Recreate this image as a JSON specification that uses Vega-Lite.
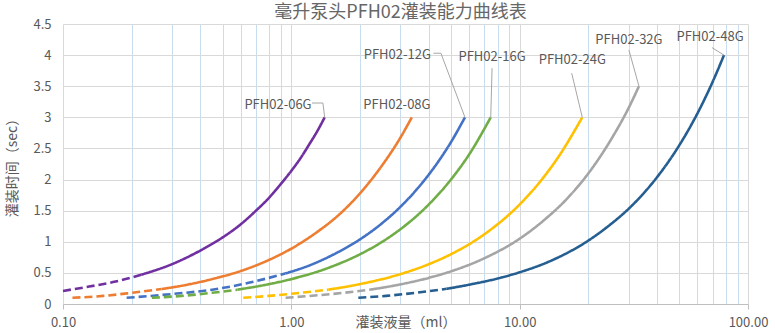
{
  "$schema": "https://vega.github.io/schema/vega-lite/v6.json",
  "width": 685,
  "height": 280,
  "autosize": {"type": "none"},
  "padding": {"left": 63, "top": 24, "right": 27, "bottom": 29},
  "background": "white",
  "title": {
    "text": "毫升泵头PFH02灌装能力曲线表",
    "font": "Noto Sans CJK SC",
    "fontSize": 18,
    "fontWeight": "normal",
    "color": "#666666",
    "anchor": "middle",
    "frame": "group",
    "baseline": "alphabetic",
    "offset": -18,
    "dx": -5
  },
  "config": {
    "view": {"stroke": null},
    "font": "Noto Sans CJK SC",
    "text": {"font": "Noto Sans CJK SC"}
  },
  "datasets": {
    "curves": [
      {"s":"06G","g":"dash","v":0.1,"t":0.21},{"s":"06G","g":"dash","v":0.13,"t":0.28},{"s":"06G","g":"dash","v":0.17,"t":0.36},{"s":"06G","g":"dash","v":0.22,"t":0.47},
      {"s":"06G","g":"solid","v":0.22,"t":0.47},{"s":"06G","g":"solid","v":0.3,"t":0.64},{"s":"06G","g":"solid","v":0.4,"t":0.86},{"s":"06G","g":"solid","v":0.5,"t":1.07},{"s":"06G","g":"solid","v":0.6,"t":1.28},{"s":"06G","g":"solid","v":0.7,"t":1.5},{"s":"06G","g":"solid","v":0.8,"t":1.71},{"s":"06G","g":"solid","v":0.9,"t":1.93},{"s":"06G","g":"solid","v":1.0,"t":2.14},{"s":"06G","g":"solid","v":1.1,"t":2.35},{"s":"06G","g":"solid","v":1.2,"t":2.57},{"s":"06G","g":"solid","v":1.3,"t":2.78},{"s":"06G","g":"solid","v":1.4,"t":3.0},
      {"s":"08G","g":"dash","v":0.11,"t":0.1},{"s":"08G","g":"dash","v":0.15,"t":0.13},{"s":"08G","g":"dash","v":0.2,"t":0.18},{"s":"08G","g":"dash","v":0.27,"t":0.24},
      {"s":"08G","g":"solid","v":0.27,"t":0.24},{"s":"08G","g":"solid","v":0.35,"t":0.31},{"s":"08G","g":"solid","v":0.45,"t":0.4},{"s":"08G","g":"solid","v":0.6,"t":0.53},{"s":"08G","g":"solid","v":0.8,"t":0.71},{"s":"08G","g":"solid","v":1.0,"t":0.89},{"s":"08G","g":"solid","v":1.3,"t":1.16},{"s":"08G","g":"solid","v":1.6,"t":1.42},{"s":"08G","g":"solid","v":2.0,"t":1.78},{"s":"08G","g":"solid","v":2.5,"t":2.23},{"s":"08G","g":"solid","v":3.0,"t":2.67},{"s":"08G","g":"solid","v":3.37,"t":3.0},
      {"s":"12G","g":"dash","v":0.19,"t":0.1},{"s":"12G","g":"dash","v":0.3,"t":0.16},{"s":"12G","g":"dash","v":0.45,"t":0.23},{"s":"12G","g":"dash","v":0.65,"t":0.34},{"s":"12G","g":"dash","v":0.94,"t":0.49},
      {"s":"12G","g":"solid","v":0.94,"t":0.49},{"s":"12G","g":"solid","v":1.2,"t":0.62},{"s":"12G","g":"solid","v":1.5,"t":0.78},{"s":"12G","g":"solid","v":2.0,"t":1.04},{"s":"12G","g":"solid","v":2.5,"t":1.3},{"s":"12G","g":"solid","v":3.0,"t":1.56},{"s":"12G","g":"solid","v":3.5,"t":1.82},{"s":"12G","g":"solid","v":4.0,"t":2.08},{"s":"12G","g":"solid","v":4.5,"t":2.34},{"s":"12G","g":"solid","v":5.0,"t":2.6},{"s":"12G","g":"solid","v":5.76,"t":3.0},
      {"s":"16G","g":"dash","v":0.245,"t":0.1},{"s":"16G","g":"dash","v":0.33,"t":0.13},{"s":"16G","g":"dash","v":0.45,"t":0.18},{"s":"16G","g":"dash","v":0.58,"t":0.23},
      {"s":"16G","g":"solid","v":0.58,"t":0.23},{"s":"16G","g":"solid","v":0.8,"t":0.32},{"s":"16G","g":"solid","v":1.0,"t":0.4},{"s":"16G","g":"solid","v":1.5,"t":0.6},{"s":"16G","g":"solid","v":2.0,"t":0.8},{"s":"16G","g":"solid","v":2.5,"t":1.0},{"s":"16G","g":"solid","v":3.0,"t":1.2},{"s":"16G","g":"solid","v":4.0,"t":1.6},{"s":"16G","g":"solid","v":5.0,"t":2.0},{"s":"16G","g":"solid","v":6.0,"t":2.4},{"s":"16G","g":"solid","v":7.47,"t":3.0},
      {"s":"24G","g":"dash","v":0.616,"t":0.1},{"s":"24G","g":"dash","v":0.8,"t":0.13},{"s":"24G","g":"dash","v":1.1,"t":0.18},{"s":"24G","g":"dash","v":1.45,"t":0.23},
      {"s":"24G","g":"solid","v":1.45,"t":0.23},{"s":"24G","g":"solid","v":2.0,"t":0.32},{"s":"24G","g":"solid","v":3.0,"t":0.48},{"s":"24G","g":"solid","v":4.0,"t":0.64},{"s":"24G","g":"solid","v":5.0,"t":0.8},{"s":"24G","g":"solid","v":7.0,"t":1.12},{"s":"24G","g":"solid","v":10.0,"t":1.6},{"s":"24G","g":"solid","v":12.5,"t":2.0},{"s":"24G","g":"solid","v":15.0,"t":2.4},{"s":"24G","g":"solid","v":18.8,"t":3.0},
      {"s":"32G","g":"dash","v":0.944,"t":0.1},{"s":"32G","g":"dash","v":1.3,"t":0.14},{"s":"32G","g":"dash","v":1.7,"t":0.18},{"s":"32G","g":"dash","v":2.21,"t":0.23},
      {"s":"32G","g":"solid","v":2.21,"t":0.23},{"s":"32G","g":"solid","v":3.0,"t":0.315},{"s":"32G","g":"solid","v":4.0,"t":0.42},{"s":"32G","g":"solid","v":5.0,"t":0.525},{"s":"32G","g":"solid","v":7.0,"t":0.735},{"s":"32G","g":"solid","v":10.0,"t":1.05},{"s":"32G","g":"solid","v":13.0,"t":1.37},{"s":"32G","g":"solid","v":16.0,"t":1.68},{"s":"32G","g":"solid","v":20.0,"t":2.1},{"s":"32G","g":"solid","v":25.0,"t":2.63},{"s":"32G","g":"solid","v":30.0,"t":3.15},{"s":"32G","g":"solid","v":33.3,"t":3.5},
      {"s":"48G","g":"dash","v":1.965,"t":0.1},{"s":"48G","g":"dash","v":2.6,"t":0.13},{"s":"48G","g":"dash","v":3.5,"t":0.18},{"s":"48G","g":"dash","v":4.79,"t":0.244},
      {"s":"48G","g":"solid","v":4.79,"t":0.244},{"s":"48G","g":"solid","v":6.0,"t":0.31},{"s":"48G","g":"solid","v":8.0,"t":0.41},{"s":"48G","g":"solid","v":10.0,"t":0.51},{"s":"48G","g":"solid","v":14.0,"t":0.71},{"s":"48G","g":"solid","v":20.0,"t":1.02},{"s":"48G","g":"solid","v":25.0,"t":1.28},{"s":"48G","g":"solid","v":30.0,"t":1.53},{"s":"48G","g":"solid","v":40.0,"t":2.04},{"s":"48G","g":"solid","v":50.0,"t":2.55},{"s":"48G","g":"solid","v":60.0,"t":3.06},{"s":"48G","g":"solid","v":70.0,"t":3.57},{"s":"48G","g":"solid","v":78.5,"t":4.0}
    ],
    "leaders": [
      {"label":"PFH02-06G","i":0,"v":1.232,"t":3.23},{"label":"PFH02-06G","i":1,"v":1.375,"t":3.23},{"label":"PFH02-06G","i":2,"v":1.4,"t":3.0},
      {"label":"PFH02-12G","i":0,"v":4.19,"t":4.03},{"label":"PFH02-12G","i":1,"v":4.52,"t":4.03},{"label":"PFH02-12G","i":2,"v":5.76,"t":3.0},
      {"label":"PFH02-16G","i":0,"v":7.57,"t":3.79},{"label":"PFH02-16G","i":1,"v":7.47,"t":3.0},
      {"label":"PFH02-24G","i":0,"v":16.9,"t":3.71},{"label":"PFH02-24G","i":1,"v":18.8,"t":3.0},
      {"label":"PFH02-32G","i":0,"v":30.1,"t":4.08},{"label":"PFH02-32G","i":1,"v":33.3,"t":3.5},
      {"label":"PFH02-48G","i":0,"v":69.6,"t":4.12},{"label":"PFH02-48G","i":1,"v":78.5,"t":4.0}
    ],
    "labels": [
      {"label":"PFH02-06G","v":0.874,"t":3.2},
      {"label":"PFH02-08G","v":2.9,"t":3.2},
      {"label":"PFH02-12G","v":2.91,"t":4.0},
      {"label":"PFH02-16G","v":7.57,"t":3.97},
      {"label":"PFH02-24G","v":17.0,"t":3.92},
      {"label":"PFH02-32G","v":30.1,"t":4.24},
      {"label":"PFH02-48G","v":68.2,"t":4.29}
    ]
  },
  "encoding": {
    "x": {
      "field": "v", "type": "quantitative",
      "scale": {"type": "log", "domain": [0.1, 100], "nice": false},
      "axis": {
        "title": "灌装液量（ml）",
        "titleFont": "Noto Sans CJK SC",
        "titleFontSize": 14,
        "titleFontWeight": "normal",
        "titleColor": "#595959",
        "titleBaseline": "middle",
        "titleY": 18,
        "values": [0.1,0.2,0.3,0.4,0.5,0.6,0.7,0.8,0.9,1,2,3,4,5,6,7,8,9,10,20,30,40,50,60,70,80,90,100],
        "labelExpr": "indexof([0.1,1,10,100], datum.value) >= 0 ? format(datum.value, '.2f') : ''",
        "labelFont": "Noto Sans CJK SC",
        "labelFontSize": 13,
        "labelColor": "#595959",
        "labelPadding": 7,
        "labelBaseline": "top",
        "labelFlush": false,
        "labelOverlap": false,
        "domainColor": "#BFBFBF",
        "tickSize": 5,
        "tickColor": {"condition": {"test": "indexof([0.1,1,10,100], datum.value) >= 0", "value": "#BFBFBF"}, "value": "transparent"},
        "grid": true,
        "gridColor": {"condition": {"test": "indexof([0.1,1,10,100], datum.value) >= 0", "value": "#D9D9D9"}, "value": "#C9DDF0"},
        "gridWidth": 1
      }
    },
    "y": {
      "field": "t", "type": "quantitative",
      "scale": {"domain": [0, 4.5], "nice": false, "zero": true},
      "axis": {
        "title": "灌装时间（sec）",
        "titleFont": "Noto Sans CJK SC",
        "titleFontSize": 14,
        "titleFontWeight": "normal",
        "titleColor": "#595959",
        "titleAngle": 270,
        "titleAlign": "center",
        "titleBaseline": "middle",
        "titleX": -51,
        "titleY": 140,
        "values": [0,0.5,1,1.5,2,2.5,3,3.5,4,4.5],
        "labelExpr": "format(datum.value, '~g')",
        "labelFont": "Noto Sans CJK SC",
        "labelFontSize": 13,
        "labelColor": "#595959",
        "labelPadding": 12,
        "labelOverlap": false,
        "labelFlush": false,
        "labelBound": false,
        "domain": false,
        "ticks": false,
        "grid": true,
        "gridColor": "#D9D9D9"
      }
    }
  },
  "layer": [
    {
      "data": {"name": "curves"},
      "mark": {"type": "line", "interpolate": "monotone", "strokeWidth": 2.6, "strokeCap": "butt"},
      "encoding": {
        "color": {
          "field": "s", "type": "nominal",
          "scale": {"domain": ["06G","08G","12G","16G","24G","32G","48G"], "range": ["#7030A0","#ED7D31","#4472C4","#70AD47","#FFC000","#A5A5A5","#255E91"]},
          "legend": null
        },
        "strokeDash": {
          "field": "g", "type": "nominal",
          "scale": {"domain": ["dash","solid"], "range": [[8,4],[1,0]]},
          "legend": null
        }
      }
    },
    {
      "data": {"name": "leaders"},
      "mark": {"type": "line", "color": "#A6A6A6", "strokeWidth": 1},
      "encoding": {
        "detail": {"field": "label"},
        "order": {"field": "i", "type": "quantitative"}
      }
    },
    {
      "data": {"name": "labels"},
      "mark": {"type": "text", "font": "Noto Sans CJK SC", "fontSize": 13, "color": "#595959", "align": "center", "baseline": "middle"},
      "encoding": {
        "text": {"field": "label"}
      }
    }
  ]
}
